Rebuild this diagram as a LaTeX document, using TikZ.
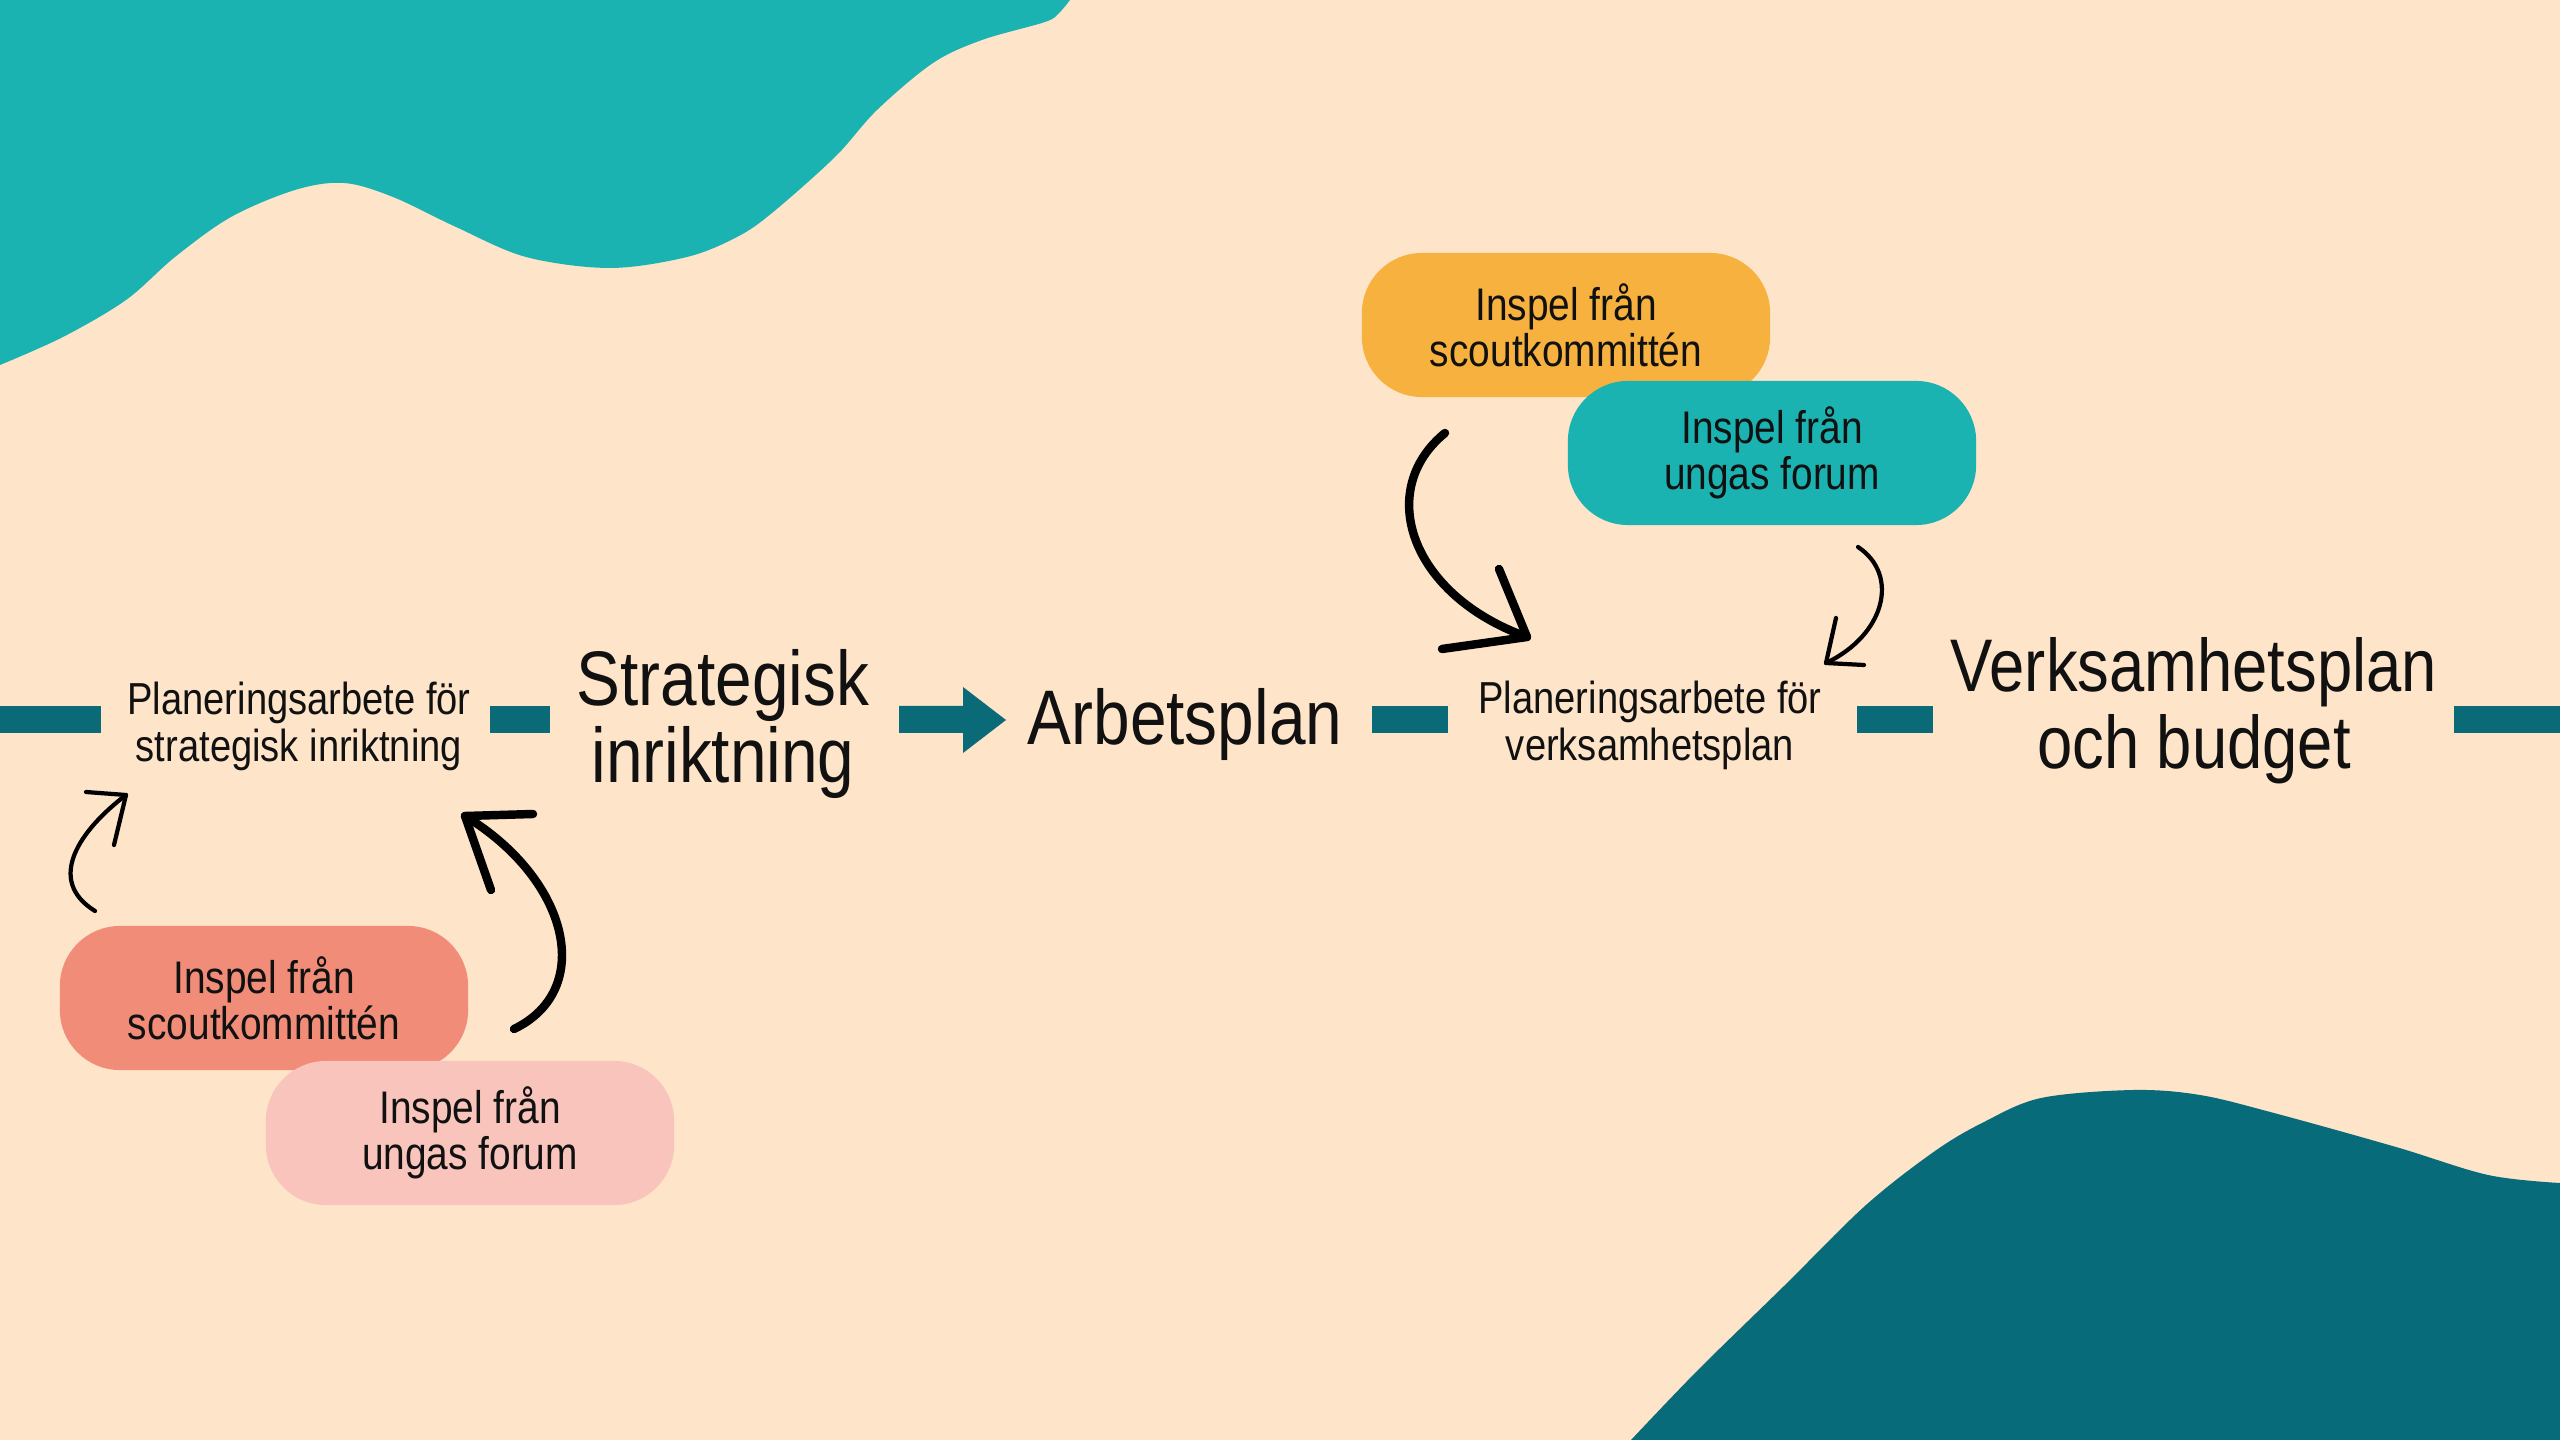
\documentclass[tikz,border=0pt]{standalone}
\usepackage{fontspec}
\setmainfont{Liberation Sans}[FakeStretch=0.85]
\definecolor{bg}{HTML}{FEE4C9}
\definecolor{tealL}{HTML}{1BB3B1}
\definecolor{tealD}{HTML}{086B7A}
\definecolor{barc}{HTML}{0B6A78}
\definecolor{orangeB}{HTML}{F7B13F}
\definecolor{salmonB}{HTML}{F08C78}
\definecolor{pinkB}{HTML}{F8C4BB}
\definecolor{ink}{HTML}{111111}
\begin{document}
\begin{tikzpicture}[x=0.01cm,y=-0.01cm,
  smalltext/.style={align=center,text=ink,font=\fontsize{12.75}{13.4}\selectfont,inner sep=0pt},
  bigtext/.style={align=center,text=ink,font=\fontsize{22}{22}\selectfont,inner sep=0pt},
  blob/.style={align=center,text=ink,font=\fontsize{13}{13.1}\selectfont,rounded corners=0.6cm,minimum width=4.08cm,minimum height=1.44cm,inner sep=0pt},
  thickarr/.style={draw=black,line width=2.4pt,line cap=round,line join=round},
  thinarr/.style={draw=black,line width=1.2pt,line cap=round,line join=round}]
\useasboundingbox (0,0) rectangle (2560,1440);
\fill[bg] (0,0) rectangle (2560,1440);
% decorative corner shapes
\fill[tealL] plot[smooth,tension=0.55] coordinates {(1070,0) (1059,13) (1045,22) (982,40) (933,63) (877,110) (835,157) (772,213) (737,237) (687,257) (610,268) (526,257) (456,227) (393,197) (344,183) (295,190) (231,217) (175,257) (126,300) (63,337) (0,365)} -- (0,0) -- cycle;
\fill[tealD] plot[smooth,tension=0.55] coordinates {(1631,1440) (1698,1370) (1785,1285) (1866,1205) (1935,1151) (1984,1122) (2041,1098) (2133,1090) (2200,1095) (2274,1113) (2396,1147) (2488,1175) (2560,1183)} -- (2560,1440) -- cycle;
% main line bars
\fill[barc] (0,706) rectangle (101,733);
\fill[barc] (490,706) rectangle (550,733);
\fill[barc] (1372,706) rectangle (1448,733);
\fill[barc] (1857,706) rectangle (1933,733);
\fill[barc] (2454,706) rectangle (2560,733);
\fill[barc] (899,706) -- (963,706) -- (963,687) -- (1006,720) -- (963,753) -- (963,733) -- (899,733) -- cycle;
% text nodes
\node[smalltext] (p1) at (299,726) {Planeringsarbete för\\strategisk inriktning};
\node[bigtext] (si) at (723,724) {Strategisk\\inriktning};
\node[bigtext,anchor=base] (ap) at (1185,745) {Arbetsplan};
\node[smalltext] (p2) at (1650,725) {Planeringsarbete för\\verksamhetsplan};
\node[bigtext,font=\fontsize{21.2}{22}\selectfont] (vp) at (2194,711) {Verksamhetsplan\\och budget};
% blobs
\node[blob,fill=orangeB] (o1) at (1566,325) {Inspel från\\scoutkommittén};
\node[blob,fill=tealL] (t1) at (1772,453) {Inspel från\\ungas forum};
\node[blob,fill=salmonB] (s1) at (264,998) {Inspel från\\scoutkommittén};
\node[blob,fill=pinkB] (k1) at (470,1133) {Inspel från\\ungas forum};
% arrow end points
\coordinate (a1s) at (95,911);
\coordinate (a1t) at (126,795);
\coordinate (a2s) at (514,1029);
\coordinate (a2t) at (465,816);
\coordinate (a3s) at (1445,433);
\coordinate (a3t) at (1527,637);
\coordinate (a4s) at (1858,547);
\coordinate (a4t) at (1826,663);
% arrows
\draw[thinarr] (a1s) .. controls (45,880) and (80,830) .. (a1t);
\draw[thinarr] (a1t) -- ++(-40,-3) (a1t) -- ++(-12,50);
\draw[thickarr] (a2s) .. controls (595,990) and (570,880) .. (a2t);
\draw[thickarr] (a2t) -- ++(68,-2) (a2t) -- ++(26,74);
\draw[thickarr] (a3s) .. controls (1375,490) and (1410,595) .. (a3t);
\draw[thickarr] (a3t) -- ++(-85,12) (a3t) -- ++(-28,-68);
\draw[thinarr] (a4s) .. controls (1900,575) and (1885,635) .. (a4t);
\draw[thinarr] (a4t) -- ++(38,2) (a4t) -- ++(10,-45);
\end{tikzpicture}
\end{document}
